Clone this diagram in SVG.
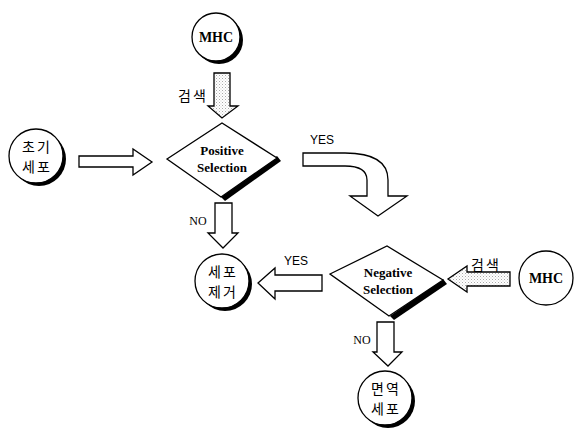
<svg xmlns="http://www.w3.org/2000/svg" width="580" height="433" viewBox="0 0 580 433">
<defs>
<pattern id="dots" width="3" height="3" patternUnits="userSpaceOnUse">
<rect width="3" height="3" fill="#fff"/>
<rect x="0" y="0" width="1" height="1" fill="#aaa"/>
<rect x="1.5" y="1.5" width="1" height="1" fill="#ccc"/>
</pattern>
</defs>
<style>
.shadow{fill:#000}
.node{fill:#fff;stroke:#000;stroke-width:1.3}
.arrow{fill:#fff;stroke:#000;stroke-width:1.3;stroke-linejoin:miter}
.shaded{fill:url(#dots);stroke:#000;stroke-width:1.3}
.lbl{font-family:"Liberation Serif",serif;font-weight:bold;font-size:14px;fill:#000;text-anchor:middle}
.dlbl{font-family:"Liberation Serif",serif;font-weight:bold;font-size:13px;fill:#000;text-anchor:middle}
.ko{font-family:"Noto Sans CJK KR",sans-serif;font-size:14px;letter-spacing:2px;fill:#000;text-anchor:middle}
.yn{font-family:"Liberation Sans",sans-serif;font-size:12px;fill:#000;text-anchor:middle}
.no{font-family:"Liberation Serif",serif;font-size:12px;fill:#000;text-anchor:middle}
</style>
<rect width="580" height="433" fill="#fff"/>

<g id="connectors">
<polygon class="shaded" points="214,73 230,73 230,106 238,106 222,118 208,106 214,106"/>
<text class="ko" x="193" y="101">검색</text>
<polygon class="arrow" points="79,156 133,156 133,149 152,162 133,175 133,167 79,167"/>
<path class="arrow" d="M303,153 L345,153 Q388,153 388,180 L388,196 L407,196 L378,216 L350,196 L367,196 L367,180 Q367,166 345,166 L303,166 Z"/>
<text class="yn" x="322" y="144">YES</text>
<polygon class="arrow" points="215,203 232,203 232,233 238,233 223,248 208,233 215,233"/>
<text class="no" x="198" y="225">NO</text>
<polygon class="arrow" points="322,275 275,275 275,268 258,283 275,299 275,291 322,291"/>
<text class="yn" x="296" y="265">YES</text>
<polygon class="shaded" points="510,272 467,272 467,266 448,279 467,292 467,286 510,286"/>
<text class="ko" x="486" y="270">검색</text>
<polygon class="arrow" points="377,322 394,322 394,352 402,352 388,366 373,352 377,352"/>
<text class="no" x="362" y="344">NO</text>
</g>

<g id="mhc-top">
<circle class="shadow" cx="219" cy="40" r="24"/>
<circle class="node" cx="216" cy="37" r="24"/>
<text class="lbl" x="216" y="42">MHC</text>
</g>

<g id="initial-cell">
<circle class="shadow" cx="39" cy="159" r="27"/>
<circle class="node" cx="36" cy="156" r="27"/>
<text class="ko" x="37" y="152">초기</text>
<text class="ko" x="37" y="172">세포</text>
</g>

<g id="positive-selection">
<polygon class="shadow" points="277,156 281,161 225,201 221,197"/>
<polygon class="node" points="167,159 222,123 277,158 221,197"/>
<text class="dlbl" x="222" y="155">Positive</text>
<text class="dlbl" x="222" y="172">Selection</text>
</g>

<g id="cell-removal">
<circle class="shadow" cx="225" cy="284" r="27"/>
<circle class="node" cx="222" cy="281" r="27"/>
<text class="ko" x="223" y="277">세포</text>
<text class="ko" x="223" y="297">제거</text>
</g>

<g id="negative-selection">
<polygon class="shadow" points="443,279 447,284 394,320 390,316"/>
<polygon class="node" points="330,274 387,246 443,280 389,316"/>
<text class="dlbl" x="388" y="277">Negative</text>
<text class="dlbl" x="388" y="294">Selection</text>
</g>

<g id="mhc-right">
<circle class="node" cx="546" cy="278" r="27"/>
<text class="lbl" x="546" y="283">MHC</text>
</g>

<g id="immune-cell">
<circle class="shadow" cx="388" cy="401" r="27"/>
<circle class="node" cx="385" cy="398" r="27"/>
<text class="ko" x="386" y="394">면역</text>
<text class="ko" x="386" y="414">세포</text>
</g>
</svg>
